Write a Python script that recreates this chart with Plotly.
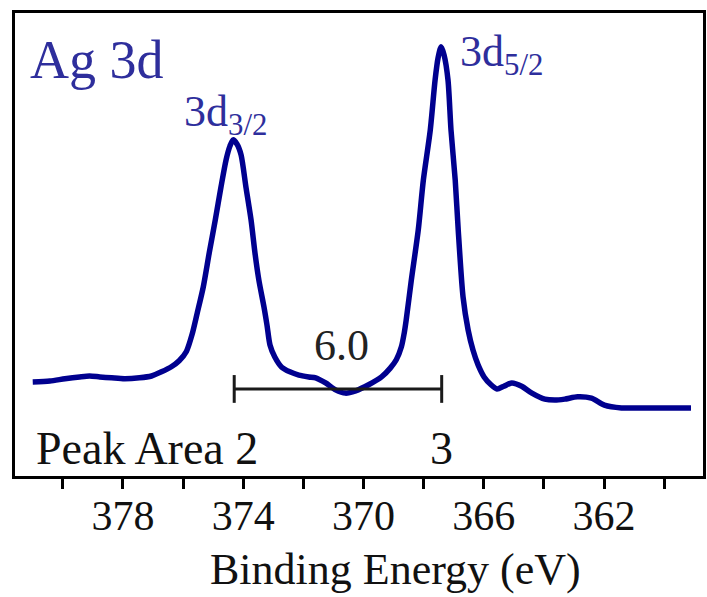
import plotly.graph_objects as go

# Ag 3d XPS spectrum (binding energy in eV, intensity in arbitrary units)
binding_energy = [
    381.0, 380.43, 379.93, 379.44, 379.11, 378.77, 378.38, 377.95, 377.45, 377.05,
    376.72, 376.39, 376.13, 375.89, 375.70, 375.53, 375.33, 375.13, 374.93, 374.74,
    374.57, 374.44, 374.34, 374.21, 374.07, 373.91, 373.74, 373.61, 373.48, 373.31,
    373.21, 373.11, 372.95, 372.72, 372.45, 372.15, 371.82, 371.59, 371.26, 370.93,
    370.60, 370.26, 369.83, 369.40, 369.11, 368.91, 368.74, 368.64, 368.58, 368.41,
    368.18, 368.01, 367.78, 367.62, 367.52, 367.42, 367.32, 367.19, 367.09, 366.95,
    366.85, 366.69, 366.52, 366.36, 366.19, 365.99, 365.76, 365.56, 365.33, 365.07,
    364.74, 364.40, 363.97, 363.64, 363.31, 362.88, 362.42, 361.99, 361.42, 360.56,
    359.11,
]
intensity = [
    20.3, 20.5, 21.0, 21.4, 21.6, 21.4, 21.2, 21.0, 21.2, 21.6,
    22.5, 23.6, 24.9, 26.9, 30.6, 35.2, 40.8, 48.2, 55.3, 62.4,
    68.3, 71.3, 72.6, 71.7, 69.3, 62.4, 55.3, 48.2, 42.3, 36.5,
    32.6, 28.3, 25.7, 23.5, 22.5, 21.8, 21.4, 21.2, 20.1, 18.6,
    17.9, 18.4, 19.7, 21.4, 23.3, 25.1, 27.9, 31.1, 33.7, 42.3,
    53.1, 63.9, 74.7, 85.5, 90.3, 92.7, 90.9, 85.5, 74.7, 63.9,
    53.1, 38.7, 31.5, 27.2, 24.0, 21.4, 19.7, 18.8, 19.4, 20.1,
    19.4, 17.9, 16.6, 16.4, 16.6, 17.1, 16.8, 15.3, 14.7, 14.7,
    14.7,
]

# Peak positions (eV) and the spin-orbit splitting label
peak_names = ["3d<sub>3/2</sub>", "3d<sub>5/2</sub>"]
peak_energy = [374.3, 367.4]
peak_area = ["2", "3"]
splitting_label = "6.0"

x_range = [381.59, 358.71]
y_range = [0, 100]

SERIF = "Liberation Serif, Times New Roman, serif"
BLUE = "#00008F"
LABEL_BLUE = "#2E2E9C"

fig = go.Figure()

fig.add_trace(go.Scatter(
    x=binding_energy, y=intensity, mode="lines",
    line=dict(color=BLUE, width=5.5, shape="spline", smoothing=0.7),
    hoverinfo="skip", showlegend=False,
))

# Splitting bracket between the two peaks
bracket_y = 18.8
cap_half = 3.0
fig.add_trace(go.Scatter(
    x=[peak_energy[0], peak_energy[1]], y=[bracket_y, bracket_y], mode="lines",
    line=dict(color="#1a1a1a", width=3), hoverinfo="skip", showlegend=False,
))
for e in peak_energy:
    fig.add_trace(go.Scatter(
        x=[e, e], y=[bracket_y - cap_half, bracket_y + cap_half], mode="lines",
        line=dict(color="#1a1a1a", width=3), hoverinfo="skip", showlegend=False,
    ))

annotations = [
    dict(x=381.17, y=89.8, text="Ag 3d", xanchor="left", yanchor="middle",
         font=dict(family=SERIF, size=54, color=LABEL_BLUE)),
    dict(x=376.03, y=78.0, text=peak_names[0], xanchor="left", yanchor="middle",
         font=dict(family=SERIF, size=44, color=LABEL_BLUE)),
    dict(x=366.85, y=91.0, text=peak_names[1], xanchor="left", yanchor="middle",
         font=dict(family=SERIF, size=44, color=LABEL_BLUE)),
    dict(x=370.73, y=28.2, text=splitting_label, xanchor="center", yanchor="middle",
         font=dict(family=SERIF, size=44, color="#222222")),
    dict(x=380.95, y=6.0, text="Peak Area " + peak_area[0], xanchor="left", yanchor="middle",
         font=dict(family=SERIF, size=46, color="#111111")),
    dict(x=peak_energy[1], y=6.0, text=peak_area[1], xanchor="center", yanchor="middle",
         font=dict(family=SERIF, size=46, color="#111111")),
    dict(x=0.553, y=-0.2585, xref="paper", yref="paper", text="Binding Energy (eV)",
         xanchor="center", yanchor="bottom",
         font=dict(family=SERIF, size=44, color="#111111")),
]
for a in annotations:
    a.setdefault("xref", "x")
    a.setdefault("yref", "y")
    a["showarrow"] = False

fig.update_layout(
    width=707, height=597,
    margin=dict(l=15, r=1, t=13, b=121),
    paper_bgcolor="white", plot_bgcolor="white",
    annotations=annotations,
    xaxis=dict(
        range=x_range, showgrid=False, zeroline=False,
        showline=True, linecolor="black", linewidth=3, mirror=True,
        tick0=378, dtick=4, ticks="outside", ticklen=10, tickwidth=3, tickcolor="black",
        minor=dict(dtick=2, tick0=380, ticks="outside", ticklen=10, tickwidth=3, tickcolor="black"),
        tickfont=dict(family=SERIF, size=42, color="#111111"),
        ticklabelstandoff=-9,
    ),
    yaxis=dict(
        range=y_range, showgrid=False, zeroline=False, showticklabels=False, ticks="",
        showline=True, linecolor="black", linewidth=3, mirror=True,
    ),
)

fig.write_html("out.html")
